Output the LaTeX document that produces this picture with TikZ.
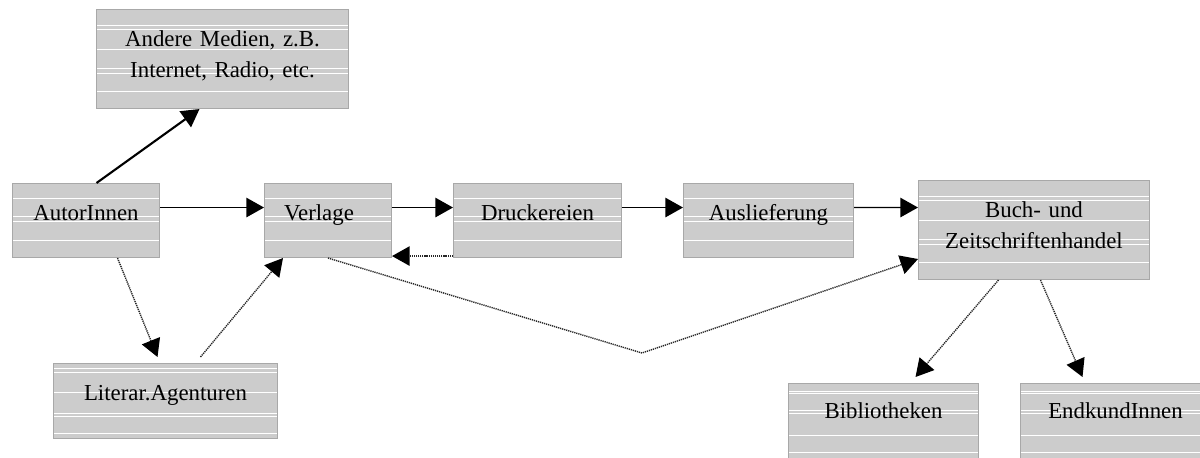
\documentclass[tikz,border=0pt]{standalone}
\usepackage{fontspec}
\setmainfont{Liberation Serif}
\usetikzlibrary{arrows.meta}

\definecolor{boxgray}{HTML}{CCCCCC}
\definecolor{boxline}{HTML}{A8A8A8}

\tikzset{
  box/.style={draw=boxline, line width=0.6pt, fill=boxgray, anchor=north west,
    inner xsep=0pt, inner ysep=0pt, align=center,
    font=\fontsize{13}{17.6}\selectfont, text height=0.74cm, text depth=0.74cm},
  stripes/.style={path picture={
    \foreach \d in {#1}
      \draw[white, line width=0.8pt]
        ([yshift=-\d*0.02cm]path picture bounding box.north west) --
        ([yshift=-\d*0.02cm]path picture bounding box.north east);}},
  oneline/.style={stripes={15,33,38,57}},
  twoline/.style={stripes={16,20,40,59,64,82}, text depth=1.24cm},
  lowline/.style={stripes={8,10,27,30,52,69}},
  flow/.style={-{Triangle[length=10pt,width=11pt]}, line width=0.8pt},
  hint/.style={-{Triangle[length=10pt,width=11pt,color=black]}, line width=0.8pt,
    black!85, dash pattern=on 0.7pt off 0.5pt}
}

\begin{document}
\begin{tikzpicture}[x=0.02cm, y=-0.02cm]
  \useasboundingbox (0,0) rectangle (1200,457);

  % BOXES
  \node[box, twoline, text width=5.04cm] (medien) at (96,9)
    {Andere Medien, z.B.\\Internet, Radio, etc.};
  \node[box, oneline, text width=2.94cm] (autor)   at (12,183)  {AutorInnen};
  \node[box, oneline, text width=2.54cm] (verlage) at (264,183) {Verlage\rule{0.36cm}{0pt}};
  \node[box, oneline, text width=3.36cm] (druck)   at (453,183) {Druckereien};
  \node[box, oneline, text width=3.40cm] (ausl)    at (683,183) {Auslieferung};
  \node[box, twoline, text width=4.62cm] (handel) at (918,180)
    {Buch- und\\Zeitschriftenhandel};
  \node[box, stripes={5,9,29,50,53,70}, text width=4.48cm, text depth=0.76cm] (agent) at (53,363)
    {Literar.Agenturen};
  \node[box, lowline, text width=3.80cm, text height=0.70cm, text depth=0.80cm]
    (biblio) at (788,383) {Bibliotheken};
  \node[box, lowline, text width=3.80cm, text height=0.70cm, text depth=0.80cm]
    (kunden) at (1020,383) {EndkundInnen};

  % SOLID FLOW
  \draw[flow, line width=1.2pt] ([xshift=0.21cm]autor.north) -- ([xshift=-0.46cm]medien.south);
  \draw[flow] ([yshift=0.26cm]autor.east)   -- ([yshift=0.26cm]verlage.west);
  \draw[flow] ([yshift=0.26cm]verlage.east) -- ([yshift=0.26cm]druck.west);
  \draw[flow] ([yshift=0.26cm]druck.east)   -- ([yshift=0.26cm]ausl.west);
  \draw[flow] ([yshift=0.26cm]ausl.east)    -- ([yshift=0.45cm]handel.west);

  % DOTTED FLOW
  \coordinate (dip) at (642,353);
  \draw[hint] ([yshift=0.04cm]druck.south west) -- ([yshift=0.04cm]verlage.south east);
  \draw[hint] ([xshift=0.63cm]autor.south) -- ([xshift=-0.16cm,yshift=0.12cm]agent.north);
  \draw[hint] ([xshift=0.70cm,yshift=0.12cm]agent.north) -- ([xshift=0.38cm]verlage.south west);
  \draw[hint] (verlage.south) -- (dip) -- ([yshift=-0.58cm]handel.west);
  \draw[hint] ([xshift=-0.71cm]handel.south) -- ([xshift=0.64cm,yshift=0.12cm]biblio.north);
  \draw[hint] ([xshift=0.13cm]handel.south) -- ([xshift=-0.66cm,yshift=0.12cm]kunden.north);

\end{tikzpicture}
\end{document}
